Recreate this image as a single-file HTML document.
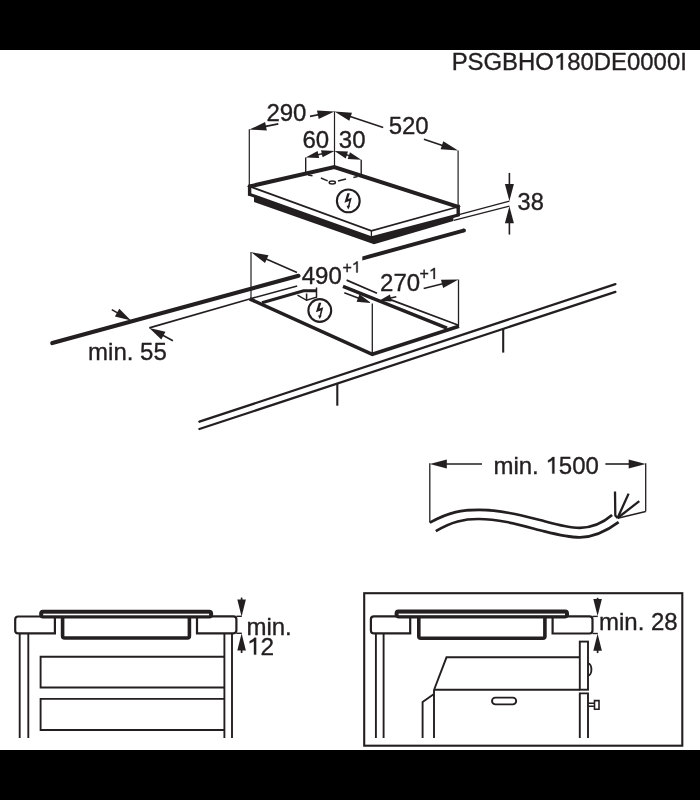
<!DOCTYPE html>
<html><head><meta charset="utf-8"><style>
html,body{margin:0;padding:0;background:#fff;}
body{width:700px;height:800px;overflow:hidden;}
svg{display:block;will-change:transform;}
text{font-family:"Liberation Sans",sans-serif;fill:#231f20;stroke:#231f20;stroke-width:0.35px;}
text .h{fill-opacity:0;stroke-opacity:0;}
</style></head><body>
<svg width="700" height="800" viewBox="0 0 700 800" stroke="#231f20" fill="#231f20">
<rect x="0" y="0" width="700" height="50" fill="#000" stroke="none"/>
<rect x="0" y="750" width="700" height="50" fill="#000" stroke="none"/>
<text id="t0" x="451.64" y="69.70" font-size="23.92">PSGBHO<tspan class="h">1</tspan>80DE0000I</text>
<path d="M763,0 H583 V1150 Q505,1080 405,1032 Q305,985 222,958 V1128 Q350,1180 450,1260 Q545,1335 612,1409 H763 Z" transform="translate(553.94,69.70) scale(0.01168,-0.01168)" stroke-width="30.0"/>
<line x1="249.30" y1="129.30" x2="249.30" y2="186.50" stroke-width="1.2" stroke-linecap="butt"/>
<line x1="278.30" y1="123.90" x2="259.31" y2="127.63" stroke-width="1.6" stroke-linecap="butt"/>
<polygon points="249.30,129.60 265.15,122.10 266.81,130.54" fill="#231f20" stroke="none" stroke-width="0" stroke-linejoin="miter"/>
<text id="t1" x="266.39" y="120.70" font-size="24">290</text>
<line x1="310.00" y1="116.40" x2="324.51" y2="113.44" stroke-width="1.6" stroke-linecap="butt"/>
<polygon points="334.50,111.40 318.70,119.01 316.98,110.59" fill="#231f20" stroke="none" stroke-width="0" stroke-linejoin="miter"/>
<line x1="334.50" y1="111.40" x2="334.50" y2="167.00" stroke-width="1.2" stroke-linecap="butt"/>
<line x1="383.20" y1="127.50" x2="344.18" y2="114.60" stroke-width="1.6" stroke-linecap="butt"/>
<polygon points="334.50,111.40 351.99,112.65 349.29,120.82" fill="#231f20" stroke="none" stroke-width="0" stroke-linejoin="miter"/>
<text id="t2" x="388.64" y="133.90" font-size="24">520</text>
<line x1="423.90" y1="139.30" x2="448.41" y2="147.40" stroke-width="1.6" stroke-linecap="butt"/>
<polygon points="458.10,150.60 440.61,149.35 443.31,141.18" fill="#231f20" stroke="none" stroke-width="0" stroke-linejoin="miter"/>
<line x1="458.10" y1="150.60" x2="458.10" y2="206.50" stroke-width="1.2" stroke-linecap="butt"/>
<text id="t3" x="302.38" y="147.90" font-size="24">60</text>
<text id="t4" x="338.79" y="147.90" font-size="24">30</text>
<line x1="305.70" y1="157.40" x2="305.70" y2="173.50" stroke-width="1.4" stroke-linecap="butt"/>
<line x1="361.20" y1="159.70" x2="361.20" y2="174.50" stroke-width="1.4" stroke-linecap="butt"/>
<line x1="320.10" y1="154.20" x2="313.31" y2="155.71" stroke-width="1.6" stroke-linecap="butt"/>
<polygon points="305.70,157.40 317.61,151.07 319.17,158.09" fill="#231f20" stroke="none" stroke-width="0" stroke-linejoin="miter"/>
<line x1="320.10" y1="154.20" x2="326.89" y2="152.69" stroke-width="1.6" stroke-linecap="butt"/>
<polygon points="334.50,151.00 322.59,157.33 321.03,150.31" fill="#231f20" stroke="none" stroke-width="0" stroke-linejoin="miter"/>
<line x1="347.85" y1="155.35" x2="341.92" y2="153.42" stroke-width="1.6" stroke-linecap="butt"/>
<polygon points="334.50,151.00 347.98,151.60 345.75,158.45" fill="#231f20" stroke="none" stroke-width="0" stroke-linejoin="miter"/>
<line x1="347.85" y1="155.35" x2="353.78" y2="157.28" stroke-width="1.6" stroke-linecap="butt"/>
<polygon points="361.20,159.70 347.72,159.10 349.95,152.25" fill="#231f20" stroke="none" stroke-width="0" stroke-linejoin="miter"/>
<polygon points="249.60,186.40 371.40,230.90 458.20,206.80 458.20,214.60 371.40,237.60 249.60,193.60" fill="#fff" stroke="none" stroke-width="0" stroke-linejoin="miter"/>
<polygon points="248.00,192.20 371.40,236.20 459.80,213.00 459.80,216.20 453.40,218.00 453.40,221.00 374.00,244.30 254.00,202.00 254.00,197.60 248.00,195.60" fill="#231f20" stroke="none" stroke-width="0" stroke-linejoin="miter"/>
<polygon points="249.60,186.40 334.30,167.10 458.20,206.80 371.40,230.90" fill="#fff" stroke="#231f20" stroke-width="1.7" stroke-linejoin="miter"/>
<polyline points="249.60,186.40 334.30,167.10 458.20,206.80" stroke-width="4" stroke-linecap="butt" stroke-linejoin="miter" fill="none"/>
<line x1="249.60" y1="184.60" x2="249.60" y2="195.60" stroke-width="3.4" stroke-linecap="butt"/>
<line x1="458.20" y1="204.80" x2="458.20" y2="216.00" stroke-width="3.4" stroke-linecap="butt"/>
<line x1="371.40" y1="231.00" x2="371.40" y2="237.00" stroke-width="1.3" stroke-linecap="butt"/>
<line x1="308.00" y1="175.00" x2="312.50" y2="175.70" stroke-width="1.5" stroke-linecap="butt"/>
<line x1="320.90" y1="178.00" x2="327.70" y2="180.90" stroke-width="1.5" stroke-linecap="butt"/>
<line x1="338.00" y1="180.90" x2="346.00" y2="179.10" stroke-width="1.5" stroke-linecap="butt"/>
<line x1="353.40" y1="177.40" x2="357.60" y2="176.60" stroke-width="1.5" stroke-linecap="butt"/>
<ellipse cx="332.3" cy="182.6" rx="3.1" ry="1.5" fill="none" stroke-width="1.5"/>
<circle cx="348.3" cy="200.9" r="11.4" fill="none" stroke-width="2.1"/>
<polygon points="347.31,193.23 349.83,193.23 348.00,198.94 351.75,197.71 349.60,205.80 350.19,205.80 348.23,209.46 346.54,205.80 348.00,205.80 349.28,201.00 344.43,202.74" fill="#231f20" stroke="none" stroke-width="0" stroke-linejoin="miter"/>
<line x1="459.90" y1="214.30" x2="509.40" y2="201.10" stroke-width="1.3" stroke-linecap="butt"/>
<line x1="453.70" y1="220.30" x2="509.40" y2="206.20" stroke-width="1.3" stroke-linecap="butt"/>
<line x1="509.40" y1="172.90" x2="509.40" y2="190.90" stroke-width="1.6" stroke-linecap="butt"/>
<polygon points="509.40,201.10 504.90,184.10 513.90,184.10" fill="#231f20" stroke="none" stroke-width="0" stroke-linejoin="miter"/>
<line x1="509.40" y1="234.60" x2="509.40" y2="216.40" stroke-width="1.6" stroke-linecap="butt"/>
<polygon points="509.40,206.20 513.90,223.20 504.90,223.20" fill="#231f20" stroke="none" stroke-width="0" stroke-linejoin="miter"/>
<text id="t5" x="517.60" y="209.60" font-size="23.6">38</text>
<line x1="52.30" y1="343.10" x2="298.50" y2="275.80" stroke-width="4.1" stroke-linecap="round"/>
<polygon points="362.30,256.40 463.90,228.50 463.90,232.60 362.30,260.50" fill="#231f20" stroke="none" stroke-width="0" stroke-linejoin="miter"/>
<circle cx="463.9" cy="230.55" r="2.05" stroke="none"/>
<line x1="111.80" y1="309.60" x2="122.67" y2="315.83" stroke-width="1.6" stroke-linecap="butt"/>
<polygon points="131.00,320.60 114.93,316.46 119.30,308.83" fill="#231f20" stroke="none" stroke-width="0" stroke-linejoin="miter"/>
<line x1="149.30" y1="327.90" x2="249.60" y2="299.00" stroke-width="1.7" stroke-linecap="butt"/>
<line x1="172.90" y1="340.70" x2="157.74" y2="332.48" stroke-width="1.6" stroke-linecap="butt"/>
<polygon points="149.30,327.90 165.46,331.66 161.27,339.40" fill="#231f20" stroke="none" stroke-width="0" stroke-linejoin="miter"/>
<text id="t6" x="88.11" y="359.60" font-size="24">min. 55</text>
<line x1="251.00" y1="252.00" x2="251.00" y2="299.00" stroke-width="1.2" stroke-linecap="butt"/>
<line x1="297.00" y1="272.50" x2="260.53" y2="256.42" stroke-width="1.6" stroke-linecap="butt"/>
<polygon points="251.20,252.30 268.49,255.23 265.02,263.09" fill="#231f20" stroke="none" stroke-width="0" stroke-linejoin="miter"/>
<text id="t7" x="301.75" y="284.10" font-size="24">490</text>
<text id="t8" x="342.42" y="272.50" font-size="16">+<tspan class="h">1</tspan></text>
<path d="M763,0 H583 V1150 Q505,1080 405,1032 Q305,985 222,958 V1128 Q350,1180 450,1260 Q545,1335 612,1409 H763 Z" transform="translate(351.76,272.50) scale(0.00781,-0.00781)" stroke-width="44.8"/>
<polyline points="249.60,298.90 372.30,354.30 459.00,326.30" stroke-width="3.6" stroke-linecap="butt" stroke-linejoin="miter" fill="none"/>
<line x1="372.30" y1="303.60" x2="372.30" y2="354.30" stroke-width="1.3" stroke-linecap="butt"/>
<line x1="458.50" y1="279.60" x2="458.50" y2="326.00" stroke-width="1.3" stroke-linecap="butt"/>
<line x1="249.60" y1="298.90" x2="297.20" y2="286.10" stroke-width="1.6" stroke-linecap="butt"/>
<polyline points="262.00,302.80 303.60,290.80 316.50,290.80" stroke-width="3" stroke-linecap="butt" stroke-linejoin="miter" fill="none"/>
<polyline points="316.50,287.40 316.50,297.20 306.60,300.30 297.50,295.20" stroke-width="1.5" stroke-linecap="butt" stroke-linejoin="miter" fill="none"/>
<line x1="306.60" y1="293.50" x2="306.60" y2="300.30" stroke-width="1.5" stroke-linecap="butt"/>
<line x1="343.00" y1="286.40" x2="447.00" y2="328.20" stroke-width="3.4" stroke-linecap="butt"/>
<line x1="346.60" y1="280.10" x2="377.00" y2="293.30" stroke-width="1.7" stroke-linecap="butt"/>
<line x1="387.00" y1="298.40" x2="458.50" y2="325.30" stroke-width="1.7" stroke-linecap="butt"/>
<line x1="344.30" y1="292.70" x2="363.26" y2="299.99" stroke-width="1.6" stroke-linecap="butt"/>
<polygon points="371.10,303.00 356.60,301.71 359.47,294.24" fill="#231f20" stroke="none" stroke-width="0" stroke-linejoin="miter"/>
<line x1="396.30" y1="296.70" x2="386.11" y2="299.07" stroke-width="1.6" stroke-linecap="butt"/>
<polygon points="379.10,300.70 390.00,294.57 391.58,301.39" fill="#231f20" stroke="none" stroke-width="0" stroke-linejoin="miter"/>
<text id="t9" x="380.09" y="291.10" font-size="24">270</text>
<text id="t10" x="419.62" y="278.90" font-size="16">+<tspan class="h">1</tspan></text>
<path d="M763,0 H583 V1150 Q505,1080 405,1032 Q305,985 222,958 V1128 Q350,1180 450,1260 Q545,1335 612,1409 H763 Z" transform="translate(428.96,278.90) scale(0.00781,-0.00781)" stroke-width="44.8"/>
<line x1="423.70" y1="288.60" x2="448.62" y2="282.15" stroke-width="1.6" stroke-linecap="butt"/>
<polygon points="458.50,279.60 443.12,288.02 440.96,279.69" fill="#231f20" stroke="none" stroke-width="0" stroke-linejoin="miter"/>
<circle cx="319.8" cy="310.5" r="11.4" fill="none" stroke-width="2.1"/>
<polygon points="318.81,302.83 321.33,302.83 319.50,308.54 323.25,307.31 321.10,315.40 321.69,315.40 319.73,319.06 318.04,315.40 319.50,315.40 320.78,310.60 315.93,312.34" fill="#231f20" stroke="none" stroke-width="0" stroke-linejoin="miter"/>
<line x1="199.40" y1="421.70" x2="615.40" y2="284.10" stroke-width="2.3" stroke-linecap="round"/>
<line x1="199.40" y1="429.00" x2="615.40" y2="291.90" stroke-width="2.3" stroke-linecap="round"/>
<line x1="337.30" y1="383.00" x2="337.30" y2="405.70" stroke-width="2.1" stroke-linecap="butt"/>
<line x1="503.20" y1="328.30" x2="503.20" y2="352.60" stroke-width="2.1" stroke-linecap="butt"/>
<line x1="429.80" y1="463.30" x2="429.80" y2="522.60" stroke-width="1.3" stroke-linecap="butt"/>
<line x1="645.70" y1="463.30" x2="645.70" y2="511.40" stroke-width="1.3" stroke-linecap="butt"/>
<line x1="645.70" y1="511.40" x2="617.60" y2="518.20" stroke-width="1.5" stroke-linecap="butt"/>
<line x1="482.00" y1="464.00" x2="440.00" y2="464.00" stroke-width="1.6" stroke-linecap="butt"/>
<polygon points="429.80,464.00 446.80,459.50 446.80,468.50" fill="#231f20" stroke="none" stroke-width="0" stroke-linejoin="miter"/>
<line x1="605.40" y1="464.00" x2="635.50" y2="464.00" stroke-width="1.6" stroke-linecap="butt"/>
<polygon points="645.70,464.00 628.70,468.50 628.70,459.50" fill="#231f20" stroke="none" stroke-width="0" stroke-linejoin="miter"/>
<text id="t11" x="493.41" y="473.60" font-size="24">min. <tspan class="h">1</tspan>500</text>
<path d="M763,0 H583 V1150 Q505,1080 405,1032 Q305,985 222,958 V1128 Q350,1180 450,1260 Q545,1335 612,1409 H763 Z" transform="translate(545.43,473.60) scale(0.01172,-0.01172)" stroke-width="29.9"/>
<path d="M429.8,522.6 C450,511.5 462,509.9 479.1,509.9 C500,509.9 520,515 540,520 C555,524 568,528 580,527.8 C592,527.6 604,522 612.1,515" fill="none" stroke-width="2.7"/>
<path d="M435.8,531.1 C452,521.5 464,519 478.3,519 C500,519 520,525 540,530.3 C555,534 568,537.6 580,537.4 C594,537 608,530 618.6,522.1" fill="none" stroke-width="2.7"/>
<polyline points="615.00,491.40 615.30,515.40 617.60,518.00" stroke-width="2.3" stroke-linecap="butt" stroke-linejoin="round" fill="none"/>
<line x1="617.60" y1="518.00" x2="628.60" y2="493.60" stroke-width="2.3" stroke-linecap="butt"/>
<line x1="617.60" y1="518.00" x2="639.30" y2="501.10" stroke-width="2.3" stroke-linecap="butt"/>
<path d="M54.9,616.5 H18.2 Q15.2,616.5 15.2,619.5 V630.4 Q15.2,633.4 18.2,633.4 H54.9 Z" fill="#fff" stroke-width="2.2"/>
<path d="M197,616.3 H233.4 Q236.4,616.3 236.4,619.3 V630.3 Q236.4,633.3 233.4,633.3 H197 Z" fill="#fff" stroke-width="2.2"/>
<path d="M62.6,617 V636 Q62.6,638 64.6,638 H187.4 Q189.4,638 189.4,636 V617" fill="#fff" stroke-width="3.6"/>
<rect x="39.2" y="609.7" width="173.89999999999998" height="8.899999999999977" rx="3.8" fill="#231f20" stroke="none"/>
<rect x="43.2" y="613.7" width="165.89999999999998" height="1.6" fill="#fff" stroke="none"/>
<line x1="19.70" y1="633.40" x2="19.70" y2="738.00" stroke-width="1.9" stroke-linecap="butt"/>
<line x1="28.30" y1="633.40" x2="28.30" y2="738.00" stroke-width="1.9" stroke-linecap="butt"/>
<line x1="224.40" y1="633.40" x2="224.40" y2="738.00" stroke-width="1.9" stroke-linecap="butt"/>
<line x1="232.00" y1="633.40" x2="232.00" y2="738.00" stroke-width="1.9" stroke-linecap="butt"/>
<path d="M224.4,656.8 H40.6 V687.5 H224.4" fill="none" stroke-width="1.9"/>
<path d="M224.4,698.9 H40.6 V730 H224.4" fill="none" stroke-width="1.9"/>
<line x1="236.40" y1="616.30" x2="241.80" y2="616.30" stroke-width="1.4" stroke-linecap="butt"/>
<line x1="236.40" y1="633.30" x2="241.80" y2="633.30" stroke-width="1.4" stroke-linecap="butt"/>
<line x1="241.60" y1="597.60" x2="241.60" y2="606.20" stroke-width="1.7" stroke-linecap="butt"/>
<polygon points="241.60,616.40 237.30,599.40 245.90,599.40" fill="#231f20" stroke="none" stroke-width="0" stroke-linejoin="miter"/>
<line x1="241.60" y1="653.00" x2="241.60" y2="643.70" stroke-width="1.7" stroke-linecap="butt"/>
<polygon points="241.60,633.50 245.90,650.50 237.30,650.50" fill="#231f20" stroke="none" stroke-width="0" stroke-linejoin="miter"/>
<text id="t12" x="246.41" y="635.00" font-size="24">min.</text>
<text id="t13" x="247.04" y="654.60" font-size="24.4"><tspan class="h">1</tspan>2</text>
<path d="M763,0 H583 V1150 Q505,1080 405,1032 Q305,985 222,958 V1128 Q350,1180 450,1260 Q545,1335 612,1409 H763 Z" transform="translate(247.04,654.60) scale(0.01191,-0.01191)" stroke-width="29.4"/>
<rect x="364.2" y="593.2" width="318.1" height="152.5" fill="none" stroke-width="2.1"/>
<path d="M410.2,616.4 H373.9 Q370.9,616.4 370.9,619.4 V630.4 Q370.9,633.4 373.9,633.4 H410.2 Z" fill="#fff" stroke-width="2.2"/>
<path d="M552.6,616.4 H589.5 Q592.5,616.4 592.5,619.4 V630.5 Q592.5,633.5 589.5,633.5 H552.6 Z" fill="#fff" stroke-width="2.2"/>
<path d="M418.8,617 V636.3 Q418.8,638.3 420.8,638.3 H542.9 Q544.9,638.3 544.9,636.3 V617" fill="#fff" stroke-width="3.6"/>
<rect x="394.6" y="609.6" width="174.39999999999998" height="8.799999999999955" rx="3.8" fill="#231f20" stroke="none"/>
<rect x="398.6" y="613.6" width="166.39999999999998" height="1.6" fill="#fff" stroke="none"/>
<line x1="375.90" y1="633.40" x2="375.90" y2="738.00" stroke-width="1.9" stroke-linecap="butt"/>
<line x1="383.60" y1="633.40" x2="383.60" y2="738.00" stroke-width="1.9" stroke-linecap="butt"/>
<line x1="592.50" y1="616.40" x2="597.80" y2="616.40" stroke-width="1.4" stroke-linecap="butt"/>
<line x1="592.50" y1="633.50" x2="597.80" y2="633.50" stroke-width="1.4" stroke-linecap="butt"/>
<line x1="597.60" y1="597.80" x2="597.60" y2="605.90" stroke-width="1.7" stroke-linecap="butt"/>
<polygon points="597.60,616.10 593.30,599.10 601.90,599.10" fill="#231f20" stroke="none" stroke-width="0" stroke-linejoin="miter"/>
<line x1="597.60" y1="653.10" x2="597.60" y2="643.90" stroke-width="1.7" stroke-linecap="butt"/>
<polygon points="597.60,633.70 601.90,650.70 593.30,650.70" fill="#231f20" stroke="none" stroke-width="0" stroke-linejoin="miter"/>
<text id="t14" x="599.01" y="629.80" font-size="24">min. 28</text>
<polyline points="579.80,657.30 446.50,657.30 434.00,690.00" stroke-width="1.9" stroke-linecap="butt" stroke-linejoin="miter" fill="none"/>
<line x1="434.00" y1="689.70" x2="579.80" y2="689.70" stroke-width="1.9" stroke-linecap="butt"/>
<line x1="434.00" y1="689.70" x2="434.00" y2="738.00" stroke-width="1.9" stroke-linecap="butt"/>
<polyline points="434.00,694.00 422.60,701.90 422.60,738.00" stroke-width="1.9" stroke-linecap="butt" stroke-linejoin="miter" fill="none"/>
<rect x="492" y="697.6" width="24.2" height="6.8" rx="3.4" fill="none" stroke-width="1.9"/>
<rect x="579.8" y="641.6" width="8.2" height="48.1" fill="#fff" stroke-width="1.9"/>
<polyline points="579.80,738.00 579.80,693.40 588.00,693.40 588.00,738.00" stroke-width="1.9" stroke-linecap="butt" stroke-linejoin="miter" fill="none"/>
<path d="M588,663.5 A3.4,6 0 0 1 588,675.5" fill="none" stroke-width="1.9"/>
<path d="M588,703.3 H594.5 M588,706.3 H594.5 M594.5,700.6 H599 V709.3 H594.5 Z" fill="none" stroke-width="1.6"/>
</svg></body></html>
